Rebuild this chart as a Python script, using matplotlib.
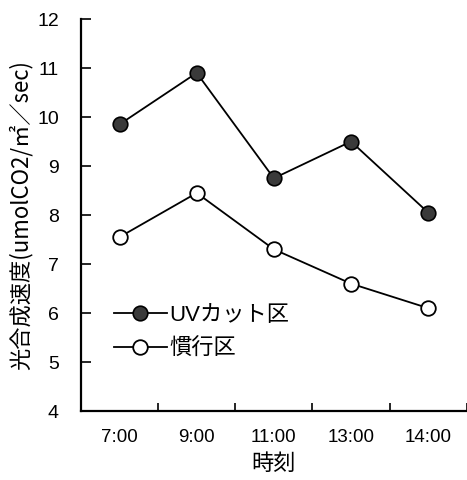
import matplotlib
matplotlib.use('Agg')
import matplotlib.pyplot as plt

times = ['7:00', '9:00', '11:00', '13:00', '14:00']
uv_cut = [9.85, 10.9, 8.75, 9.5, 8.05]
kanko = [7.55, 8.45, 7.3, 6.6, 6.1]
series_labels = ['UVカット区', '慣行区']

plt.rcParams['font.family'] = ['Liberation Sans', 'Noto Sans CJK JP', 'DejaVu Sans']

fig = plt.figure(figsize=(4.67, 4.8), dpi=100)
ax = fig.add_axes([0.1734, 0.1437, 0.826, 0.8167])

x = list(range(len(times)))
ax.plot(x, uv_cut, color='k', lw=1.3, marker='o', ms=10.5,
        mfc='#3a3a3a', mec='k', mew=1.2, label=series_labels[0])
ax.plot(x, kanko, color='k', lw=1.3, marker='o', ms=10.5,
        mfc='white', mec='k', mew=1.3, label=series_labels[1])

ax.set_xlim(-0.5, len(times) - 0.5)
ax.set_ylim(4, 12)
ax.set_yticks(range(4, 13))
ax.set_xticks(x)
ax.set_xticklabels(times, fontsize=13.5)
ax.set_xticks([i + 0.5 for i in x], minor=True)
ax.tick_params(axis='x', which='major', length=0, pad=13)
ax.tick_params(axis='x', which='minor', direction='in', length=6, width=1.2)
ax.tick_params(axis='y', direction='in', length=7, width=1.2, labelsize=14, pad=16)

for s in ['top', 'right']:
    ax.spines[s].set_visible(False)
for s in ['left', 'bottom']:
    ax.spines[s].set_linewidth(1.6)

ax.set_xlabel('時刻', fontsize=16, family=['Noto Sans CJK JP'], labelpad=4)
ax.set_ylabel('光合成速度(umolCO2/㎡／sec)', fontsize=16,
              family=['Noto Sans CJK JP'])
ax.yaxis.set_label_coords(-0.125, 0.5)

leg = ax.legend(loc='upper left', bbox_to_anchor=(0.085, 0.27), frameon=False,
                handlelength=2.4, handletextpad=0.1,
                borderaxespad=0, borderpad=0, labelspacing=0.55,
                prop={'family': ['Liberation Sans', 'Noto Sans CJK JP'], 'size': 16})

plt.savefig('out.png', dpi=100)
